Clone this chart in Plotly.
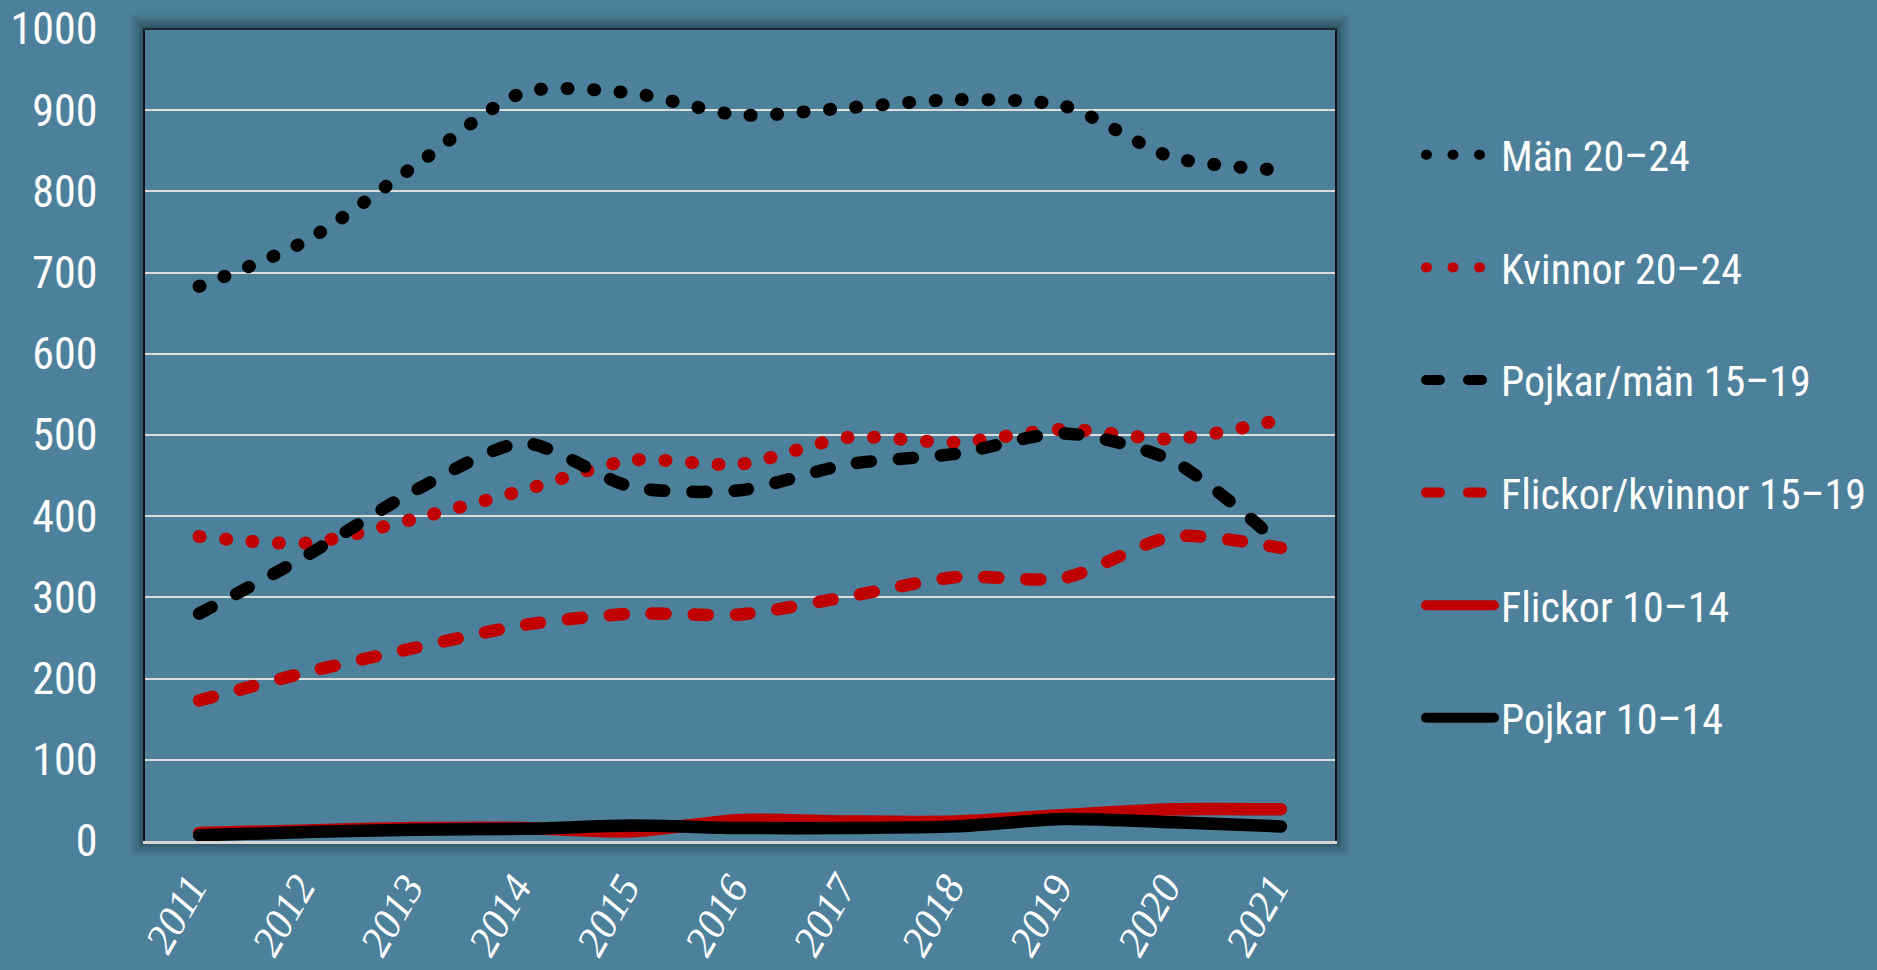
import plotly.graph_objects as go

# Yearly values per age group
years = [2011, 2012, 2013, 2014, 2015, 2016, 2017, 2018, 2019, 2020, 2021]
year_labels = [str(y) for y in years]

man_20_24 = [683, 740, 832, 922, 921, 894, 903, 913, 905, 842, 826]
kvinnor_20_24 = [375, 367, 397, 432, 469, 464, 497, 491, 507, 495, 519]
pojkar_man_15_19 = [280, 352, 432, 490, 436, 432, 464, 477, 502, 468, 365]
flickor_kvinnor_15_19 = [173, 208, 238, 266, 280, 279, 301, 325, 324, 375, 361]
flickor_10_14 = [10, 13, 16, 16, 12, 26, 24, 24, 32, 39, 39]
pojkar_10_14 = [7, 11, 14, 15, 19, 16, 16, 18, 27, 23, 18]

y_ticks = [0, 100, 200, 300, 400, 500, 600, 700, 800, 900, 1000]

RED = "#c00000"
BLACK = "#000000"
BG = "#4d819b"
SANS = ("Liberation Sans Narrow, Noto Sans Condensed, Roboto Condensed, "
        "Open Sans Condensed, DejaVu Sans Condensed, sans-serif")
SERIF = "Liberation Serif, DejaVu Serif, serif"

DOT = "1px,25.5px"
DASH = "14px,28px"

series = [
    ("Män 20–24", man_20_24, BLACK, DOT, 13),
    ("Kvinnor 20–24", kvinnor_20_24, RED, DOT, 13),
    ("Pojkar/män 15–19", pojkar_man_15_19, BLACK, DASH, 12.5),
    ("Flickor/kvinnor 15–19", flickor_kvinnor_15_19, RED, DASH, 12.5),
    ("Flickor 10–14", flickor_10_14, RED, "solid", 12.5),
    ("Pojkar 10–14", pojkar_10_14, BLACK, "solid", 12.5),
]

fig = go.Figure()
for name, values, color, dash, width in series:
    fig.add_trace(go.Scatter(
        x=years, y=values, name=name, mode="lines", legendgroup=name,
        line=dict(color=color, width=width, dash=dash, shape="spline", smoothing=0.75),
        hoverinfo="x+y+name",
    ))

# Plot-area geometry in pixels, used for the soft shadow frame
W, H = 1877, 970
L, R, T, B = 145, 1335, 29, 841
pw, ph = R - L, B - T

def px_x(v):
    return (v - L) / pw

def px_y(v):
    return (B - v) / ph

shapes = []
for i in range(12):
    d = 1 + i * 1.4
    a = 0.45 * (1 - i / 12) ** 1.6
    shapes.append(dict(
        type="rect", xref="paper", yref="paper", layer="below",
        x0=px_x(L - d), x1=px_x(R + d), y0=px_y(B + d), y1=px_y(T - d),
        line=dict(color=f"rgba(10,25,35,{a:.3f})", width=1.6),
        fillcolor="rgba(0,0,0,0)",
    ))
# black top border of the plot frame
shapes.append(dict(type="line", xref="paper", yref="paper", x0=0, x1=1, y0=1, y1=1,
                   line=dict(color="#111111", width=1.5), layer="above"))

# year labels sit with their upper end just left of each category centre
label_pos = [y - 0.08 for y in years]

fig.update_layout(
    width=W, height=H,
    margin=dict(l=L, r=W - R, t=T, b=H - B, autoexpand=False),
    paper_bgcolor=BG,
    plot_bgcolor=BG,
    shapes=shapes,
    showlegend=True,
    legend=dict(
        x=px_x(1421), y=px_y(121), xanchor="left", yanchor="top",
        font=dict(family=SANS, size=42, color="white"),
        bgcolor="rgba(0,0,0,0)", itemwidth=70, tracegroupgap=55,
        traceorder="grouped",
    ),
    xaxis=dict(
        range=[2010.5, 2021.5], tickmode="array", tickvals=label_pos, ticktext=year_labels,
        tickangle=-60, tickfont=dict(family=SERIF, size=42, color="white", style="italic"),
        showgrid=False, zeroline=False, automargin=False,
        showline=True, linecolor="#d4d4d4", linewidth=3,
        ticks="outside", ticklen=2, tickcolor="rgba(0,0,0,0)",
        fixedrange=True,
    ),
    yaxis=dict(
        range=[0, 1000], tickmode="array", tickvals=y_ticks,
        tickfont=dict(family=SANS, size=44, color="white"),
        showgrid=True, gridcolor="#dcdcdc", gridwidth=2, automargin=False,
        zeroline=False, showline=True, linecolor="#111111", linewidth=1.5, mirror=True,
        ticks="outside", ticklen=37, tickcolor="rgba(0,0,0,0)",
        fixedrange=True,
    ),
)

# Rounded caps for lines, dots and dashes, and longer legend samples
post = """
document.body.style.margin = '0';
var gd = document.getElementById('{plot_id}');
function roundCaps() {
  gd.querySelectorAll('.scatterlayer .js-line').forEach(function (p) {
    p.style.strokeLinecap = 'round';
    p.style.strokeLinejoin = 'round';
  });
  gd.querySelectorAll('.legend .legendlines path').forEach(function (p) {
    p.setAttribute('d', 'M5,0h68');
    p.style.strokeLinecap = 'round';
  });
}
roundCaps();
gd.on('plotly_afterplot', roundCaps);
"""

fig.write_html("out.html", post_script=post, config={"displayModeBar": False})
